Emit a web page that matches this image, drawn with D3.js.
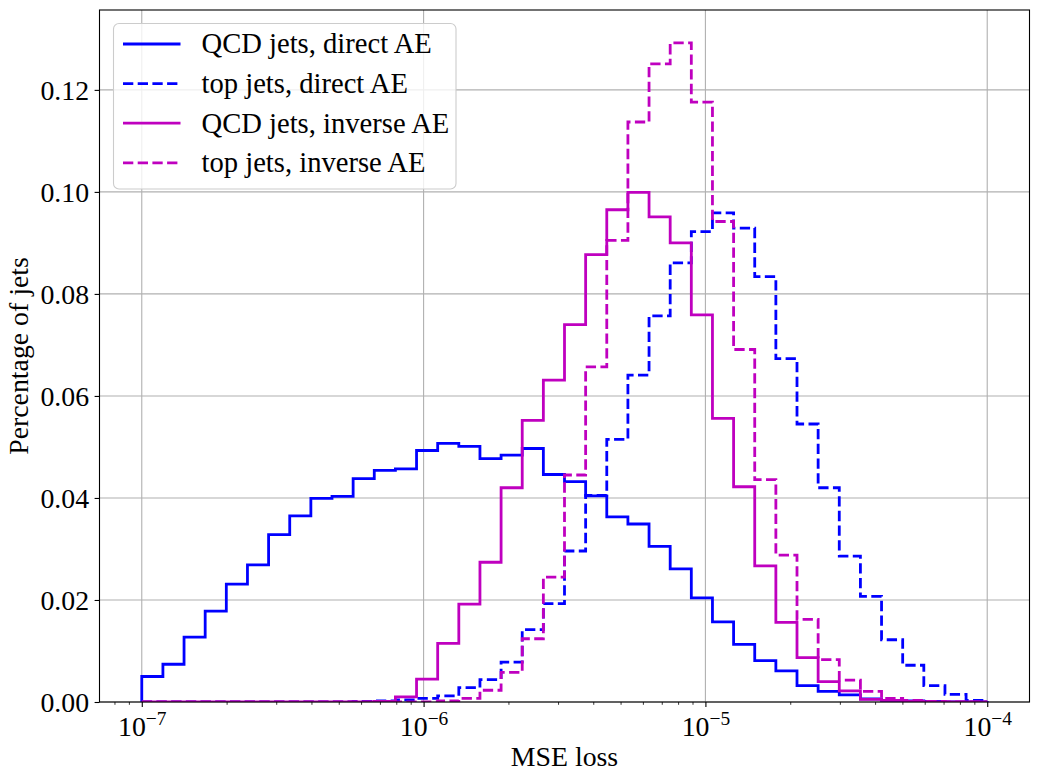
<!DOCTYPE html>
<html>
<head>
<meta charset="utf-8">
<script src="https://cdn.jsdelivr.net/npm/d3@7"></script>
<style>
body { margin: 0; background: #fff; }
text { font-family: "Liberation Serif", "Times New Roman", serif; }
</style>
</head>
<body>
<div id="chart"></div>
<script>
var W = 1038,
	H = 781;

var margin = {top: 10, right: 8.5, bottom: 79, left: 99.5};
var w = W - margin.left - margin.right,
	h = H - margin.top - margin.bottom;

//Bin edges: 40 log-spaced bins from 1e-7 to 1e-4 (like np.logspace)
var binEdges = d3.range(41).map(function(i){ return Math.pow(10, -7 + 3 * i / 40); });

//Histogram heights per bin
var qcdDirect = [
	0.0050, 0.0074, 0.0127, 0.0178, 0.0231, 0.0269, 0.0328, 0.0365, 0.0399, 0.0403,
	0.0438, 0.0454, 0.0457, 0.0493, 0.0507, 0.0501, 0.0477, 0.0484, 0.0497, 0.0446,
	0.0432, 0.0404, 0.0363, 0.0349, 0.0305, 0.0261, 0.0204, 0.0157, 0.0113, 0.0081,
	0.0061, 0.0032, 0.0021, 0.0014, 0.0006, 0.0003, 0.0002, 0.0001, 0.0000, 0.0000
];
var topDirect = [
	0, 0, 0, 0, 0, 0, 0, 0, 0, 0,
	0.0001, 0.0002, 0.0004, 0.0007, 0.0012, 0.0028, 0.0044, 0.0078, 0.0142, 0.0193,
	0.0296, 0.0405, 0.0515, 0.0641, 0.0757, 0.0861, 0.0922, 0.0959, 0.0929, 0.0834,
	0.0673, 0.0545, 0.0420, 0.0286, 0.0207, 0.0122, 0.0072, 0.0032, 0.0015, 0.0003
];
var qcdInverse = [
	0, 0, 0, 0, 0, 0, 0, 0, 0, 0,
	0, 0.0001, 0.0010, 0.0045, 0.0115, 0.0192, 0.0274, 0.0420, 0.0552, 0.0631,
	0.0740, 0.0877, 0.0965, 0.0999, 0.0951, 0.0900, 0.0759, 0.0556, 0.0422, 0.0267,
	0.0156, 0.0087, 0.0040, 0.0022, 0.0005, 0.0003, 0.0001, 0, 0, 0
];
var topInverse = [
	0, 0, 0, 0, 0, 0, 0, 0, 0, 0,
	0, 0, 0, 0, 0.0002, 0.0007, 0.0023, 0.0058, 0.0124, 0.0245,
	0.0445, 0.0657, 0.0905, 0.1137, 0.1251, 0.1292, 0.1176, 0.0942, 0.0691, 0.0436,
	0.0288, 0.0162, 0.0083, 0.0043, 0.0021, 0.0007, 0.0003, 0.0001, 0, 0
];

var seriesLabels = ['QCD jets, direct AE', 'top jets, direct AE', 'QCD jets, inverse AE', 'top jets, inverse AE'];
var yTicks = [0.00, 0.02, 0.04, 0.06, 0.08, 0.10, 0.12];
var xTickExponents = [-7, -6, -5, -4];

//Line styles (same order as the labels)
var series = [
	{values: qcdDirect, color: "#0000ff", dash: null},
	{values: topDirect, color: "#0000ff", dash: "10.3,4.4"},
	{values: qcdInverse, color: "#bf00bf", dash: null},
	{values: topInverse, color: "#bf00bf", dash: "10.3,4.4"}
];

var fontSize = 27.8;

var svg = d3.select("#chart")
	.append("svg")
	.attr("width", W)
	.attr("height", H);

var g = svg.append("g")
	.attr("transform", "translate(" + margin.left + "," + margin.top + ")");

//Scales, with matplotlib-like 5% margins on the log axis
var lo = Math.log10(binEdges[0]), hi = Math.log10(binEdges[binEdges.length - 1]);
var pad = (hi - lo) * 0.05;
var x = d3.scaleLog()
	.domain([Math.pow(10, lo - pad), Math.pow(10, hi + pad)])
	.range([0, w]);

var ymax = d3.max(series, function(s){ return d3.max(s.values); }) * 1.05;
var y = d3.scaleLinear()
	.domain([0, ymax])
	.range([h, 0]);

var majorTicks = xTickExponents.map(function(e){ return Math.pow(10, e); });
var minorTicks = x.ticks().filter(function(t){
	var l = Math.log10(t);
	return Math.abs(l - Math.round(l)) > 1e-6;
});

//Grid
g.append("g").selectAll("line.gx")
	.data(majorTicks)
	.enter().append("line")
	.attr("x1", function(d){ return x(d); })
	.attr("x2", function(d){ return x(d); })
	.attr("y1", 0).attr("y2", h)
	.attr("stroke", "#b0b0b0").attr("stroke-width", 1.1);
g.append("g").selectAll("line.gy")
	.data(yTicks)
	.enter().append("line")
	.attr("x1", 0).attr("x2", w)
	.attr("y1", function(d){ return y(d); })
	.attr("y2", function(d){ return y(d); })
	.attr("stroke", "#b0b0b0").attr("stroke-width", 1.1);

//Clip
svg.append("defs").append("clipPath").attr("id", "clip")
	.append("rect").attr("width", w).attr("height", h);

//Step outlines (histtype='step')
var line = d3.line()
	.x(function(d){ return x(d[0]); })
	.y(function(d){ return y(d[1]); });

function stepPoints(values) {
	var pts = [[binEdges[0], 0]];
	values.forEach(function(v, i){
		pts.push([binEdges[i], v]);
		pts.push([binEdges[i + 1], v]);
	});
	pts.push([binEdges[binEdges.length - 1], 0]);
	return pts;
}

g.append("g").attr("clip-path", "url(#clip)")
	.selectAll("path")
	.data(series)
	.enter().append("path")
	.attr("d", function(s){ return line(stepPoints(s.values)); })
	.attr("fill", "none")
	.attr("stroke", function(s){ return s.color; })
	.attr("stroke-width", 2.8)
	.attr("stroke-linejoin", "miter")
	.attr("stroke-dasharray", function(s){ return s.dash; });

//Axes
var xAxis = g.append("g")
	.attr("transform", "translate(0," + h + ")")
	.call(d3.axisBottom(x).tickValues(majorTicks).tickSize(4.9).tickPadding(7).tickFormat(function(){ return ""; }));
g.append("g")
	.attr("transform", "translate(0," + h + ")")
	.call(d3.axisBottom(x).tickValues(minorTicks).tickSize(2.8).tickFormat(function(){ return ""; }))
	.call(function(a){ a.select(".domain").remove(); a.selectAll("line").attr("stroke-width", 0.8); });

xAxis.selectAll(".tick text")
	.data(xTickExponents)
	.attr("font-size", fontSize)
	.attr("fill", "#000")
	.attr("dy", "0.78em")
	.each(function(e){
		var t = d3.select(this);
		t.append("tspan").text("10");
		t.append("tspan")
			.attr("font-size", fontSize * 0.7)
			.attr("dy", "-0.55em")
			.text("\u2212" + Math.abs(e));
	});

var yAxis = g.append("g")
	.call(d3.axisLeft(y).tickValues(yTicks).tickSize(4.9).tickPadding(5.5).tickFormat(d3.format(".2f")));
yAxis.selectAll(".tick text")
	.attr("font-size", fontSize)
	.attr("fill", "#000")
	.attr("dy", "0.33em");

[xAxis, yAxis].forEach(function(a){
	a.select(".domain").remove();
	a.selectAll(".tick line").attr("stroke-width", 1.1);
});

//Frame
g.append("rect")
	.attr("width", w).attr("height", h)
	.attr("fill", "none")
	.attr("stroke", "#000")
	.attr("stroke-width", 1.1);

//Axis labels
svg.append("text")
	.attr("x", margin.left + w / 2)
	.attr("y", 766)
	.attr("text-anchor", "middle")
	.attr("font-size", fontSize)
	.text("MSE loss");

svg.append("text")
	.attr("transform", "translate(28," + (margin.top + h / 2) + ") rotate(-90)")
	.attr("text-anchor", "middle")
	.attr("font-size", fontSize)
	.text("Percentage of jets");

////////////////////////////////////////////
/////////// Legend /////////////////////////
////////////////////////////////////////////
var legend = svg.append("g")
	.attr("class", "legend")
	.attr("transform", "translate(113.5,23.5)");

legend.append("rect")
	.attr("width", 342.5)
	.attr("height", 165.5)
	.attr("rx", 5.5)
	.attr("fill", "#fff")
	.attr("fill-opacity", 0.8)
	.attr("stroke", "#cccccc")
	.attr("stroke-width", 1.1);

var rows = legend.selectAll("g.row")
	.data(series)
	.enter().append("g")
	.attr("transform", function(d, i){ return "translate(0," + (20.5 + i * 39.6) + ")"; });

rows.append("line")
	.attr("x1", 9.5).attr("x2", 67)
	.attr("stroke", function(s){ return s.color; })
	.attr("stroke-width", 2.8)
	.attr("stroke-dasharray", function(s){ return s.dash; });

rows.append("text")
	.attr("x", 88)
	.attr("dy", "0.33em")
	.attr("font-size", 28.6)
	.text(function(d, i){ return seriesLabels[i]; });
</script>
</body>
</html>
